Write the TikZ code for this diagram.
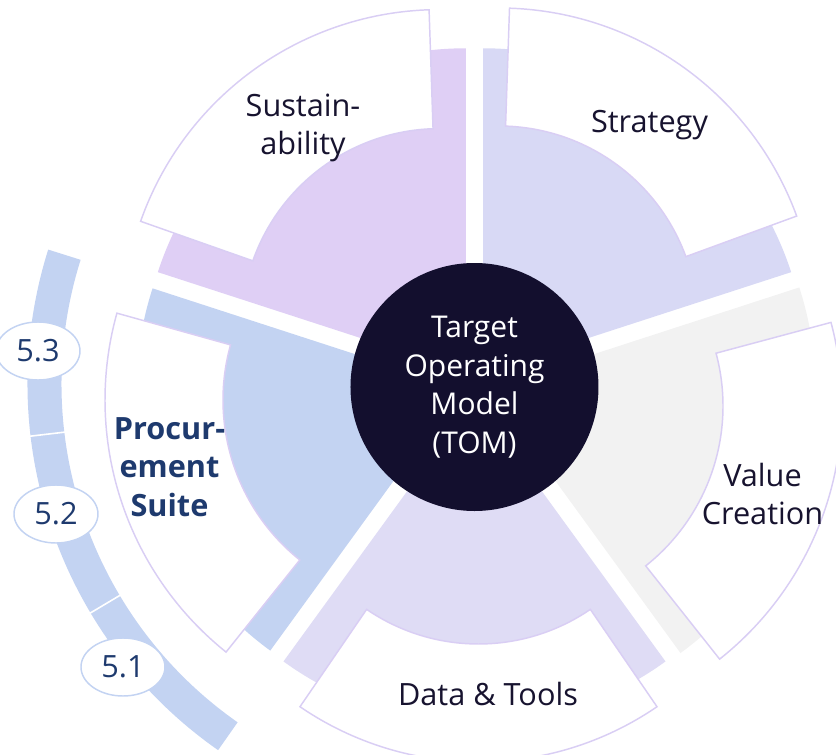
\documentclass[tikz,border=0pt]{standalone}
\usepackage{fontspec}
\setmainfont{Open Sans}
\usepackage{tikz}
\usetikzlibrary{shapes.geometric}
\definecolor{tomnavy}{HTML}{130F2E}
\definecolor{labeltext}{HTML}{17132F}
\definecolor{deepblue}{HTML}{1E3A6E}
\definecolor{susfill}{HTML}{DFCFF5}
\definecolor{strfill}{HTML}{D8D9F5}
\definecolor{valfill}{HTML}{F2F2F2}
\definecolor{datfill}{HTML}{DFDCF5}
\definecolor{profill}{HTML}{C3D3F2}
\definecolor{boxedge}{HTML}{D9CEF4}
\tikzset{seglabel/.style = {align=center,text=labeltext,inner sep=0pt,font=\fontsize{23}{29}\selectfont},
         boxline/.style = {draw=boxedge,line width=1.1pt,fill=white,line join=miter},
         tomcircle/.style = {circle,fill=tomnavy,text=white,align=center,minimum size=186pt,inner sep=0pt,font=\fontsize{22.5}{29}\selectfont},
         subnum/.style = {ellipse,draw=profill,fill=white,line width=1.1pt,text=deepblue,minimum width=63pt,minimum height=43.5pt,inner sep=0pt,font=\fontsize{23}{28}\selectfont}}

\begin{document}
\begin{tikzpicture}[x=0.75pt,y=0.75pt]
        \useasboundingbox (-474.5,-370) rectangle (361.5,384);
        \clip (-474.5,-370) rectangle (361.5,384);
        % coloured wedges
        \fill[susfill,shift={(126:14.5)}] (0,0) -- (90:324) arc[start angle=90,end angle=162,radius=324] -- cycle;
        \fill[strfill,shift={(54:14.5)}] (0,0) -- (18:324) arc[start angle=18,end angle=90,radius=324] -- cycle;
        \fill[valfill,shift={(-18:14.5)}] (0,0) -- (-54:327) arc[start angle=-54,end angle=18,radius=327] -- cycle;
        \fill[datfill,shift={(-90:14.5)}] (0,0) -- (-126:325) arc[start angle=-126,end angle=-54,radius=325] -- cycle;
        \fill[profill,shift={(198:14.5)}] (0,0) -- (162:324) arc[start angle=162,end angle=234,radius=324] -- cycle;
        % white boxes
        \draw[boxline,shift={(-34.9,57.4)}] (91.9:198) -- (91.9:317) arc[start angle=91.9,end angle=160.6,radius=317] -- (160.6:198) arc[start angle=160.6,end angle=91.9,radius=198] -- cycle;
        \draw[boxline,shift={(24.5,59)}] (20.1:199) -- (20.1:317) arc[start angle=20.1,end angle=88.1,radius=317] -- (88.1:199) arc[start angle=88.1,end angle=20.1,radius=199] -- cycle;
        \draw[boxline,shift={(44.5,-22)}] (-51.6:204) -- (-51.6:323) arc[start angle=-51.6,end angle=15,radius=323] -- (15:204) arc[start angle=15,end angle=-51.6,radius=204] -- cycle;
        \draw[boxline,shift={(4,-62)}] (-124.4:198) -- (-124.4:316) arc[start angle=-124.4,end angle=-55.6,radius=316] -- (-55.6:198) arc[start angle=-55.6,end angle=-124.4,radius=198] -- cycle;
        \draw[boxline,shift={(-46.5,-16)}] (164.4:205) -- (164.4:323) arc[start angle=164.4,end angle=231.3,radius=323] -- (231.3:205) arc[start angle=231.3,end angle=164.4,radius=205] -- cycle;
        % centre
        \node[tomcircle] (tom) at (0,-3) {Target\\Operating\\Model\\(TOM)};
        \node[seglabel] (sus) at (-171.5,256) {Sustain-\\ability};
        \node[seglabel] (str) at (175,259) {Strategy};
        \node[seglabel] (val) at (288,-110) {Value\\Creation};
        \node[seglabel] (dat) at (13.5,-310) {Data \& Tools};
        \node[seglabel,text=deepblue,font=\fontsize{23}{29}\selectfont\bfseries] (pro) at (-305,-83) {Procur-\\ement\\Suite};
        % sub-steps band
        \fill[profill] (162.5:413) arc[start angle=162.5,end angle=235,radius=413] -- (235:447) arc[start angle=235,end angle=162.5,radius=447] -- cycle;
        \draw[white,line width=1.2pt] (186.7:411) -- (186.7:449);
        \draw[white,line width=1.2pt] (210.8:411) -- (210.8:449);
        \node[subnum] (n53) at (-436.5,33) {5.3};
        \node[subnum] (n52) at (-418.5,-130) {5.2};
        \node[subnum] (n51) at (-351.5,-283) {5.1};
\end{tikzpicture}
\end{document}
